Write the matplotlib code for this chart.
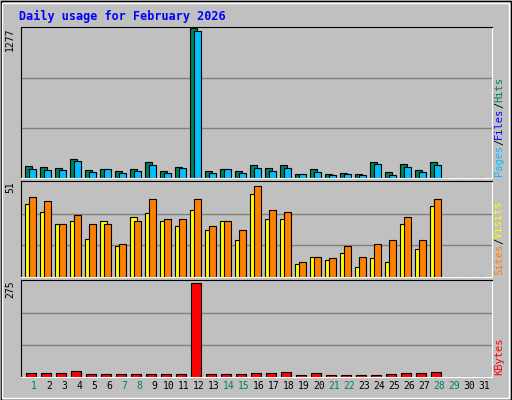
import matplotlib
matplotlib.use("Agg")
import matplotlib.pyplot as plt
from matplotlib.patches import Rectangle

days = list(range(1, 32))
hits = [100, 92, 83, 160, 66, 74, 57, 74, 134, 57, 92, 1277, 57, 74, 57, 109,
        83, 109, 31, 74, 31, 40, 31, 134, 49, 117, 66, 134, 0, 0, 0]
files = [80, 72, 72, 149, 54, 74, 46, 63, 109, 46, 83, 1255, 46, 74, 46, 89,
         63, 83, 31, 54, 23, 31, 23, 123, 23, 92, 54, 109, 0, 0, 0]
visits = [39, 34.7, 28.3, 29.9, 20.4, 29.9, 16.6, 32, 34.2, 29.9, 27.3, 35.8,
          25.1, 29.9, 19.8, 44.3, 31, 31, 7.1, 10.8, 9.2, 12.9, 5.5, 10.3,
          8.1, 28.3, 15, 37.9, 0, 0, 0]
sites = [42.7, 40.6, 28.3, 33.1, 28.3, 28.3, 17.7, 29.9, 41.6, 31, 31, 41.6,
         27.3, 29.9, 25.1, 49, 35.8, 34.7, 8.1, 10.8, 10.3, 16.6, 10.8, 17.7,
         19.8, 32, 19.8, 41.6, 0, 0, 0]
kbytes = [12, 12, 11, 18, 10, 10, 10, 10, 10, 10, 10, 270, 10, 10, 10, 11,
          11, 14, 5, 11, 5, 5, 5, 5, 10, 12, 11, 15, 0, 0, 0]
weekend = [1, 7, 8, 14, 15, 21, 22, 28, 29]
max_hits, max_visits, max_kb = 1277, 51, 275

W, H = 512, 400
fig = plt.figure(figsize=(W / 100, H / 100), dpi=100)
fig.patch.set_facecolor("#C0C0C0")
mono = "DejaVu Sans Mono"

# outer 3D border
fig.patches.append(Rectangle((0.5 / W, 0.5 / H), 1 - 1.5 / W, 1 - 1.5 / H,
                             transform=fig.transFigure, fill=False,
                             edgecolor="black", lw=1))
fig.patches.append(Rectangle((2 / W, 2 / H), 1 - 5 / W, 1 - 5 / H,
                             transform=fig.transFigure, fill=False,
                             edgecolor="white", lw=1))

fig.text(19 / W, 1 - 16 / H, "Daily usage for February 2026", color="#0000FF",
         fontsize=8.5, fontweight="bold", family=mono, va="center")

left, right = 21, 492
off_a, off_b, bw = -0.37, -0.08, 0.47


def panel(top, bottom, ymax):
    ax = fig.add_axes([left / W, 1 - bottom / H, (right - left) / W,
                       (bottom - top) / H])
    ax.set_facecolor("#C0C0C0")
    ax.set_xlim(0.13, 31.53)
    ax.set_ylim(0, ymax * 1.01)
    for s in ("left", "top"):
        ax.spines[s].set_color("black")
    for s in ("right", "bottom"):
        ax.spines[s].set_color("white")
    ax.set_yticks([])
    ax.set_xticks([])
    ax.text(-0.012, 1.0, str(ymax), transform=ax.transAxes, rotation=90,
            ha="right", va="top", fontsize=7, family=mono)
    for f in (1 / 3, 2 / 3):
        ax.axhline(ymax * f, color="#808080", lw=1, zorder=0)
    return ax


ax1 = panel(27, 178, max_hits)
ax1.bar([d + off_a for d in days], hits, width=bw, color="#00805C",
        edgecolor="black", lw=0.8)
ax1.bar([d + off_b for d in days], files, width=bw, color="#00C0FF",
        edgecolor="black", lw=0.8)

ax2 = panel(181, 277, max_visits)
ax2.bar([d + off_a for d in days], visits, width=bw, color="#FFFF00",
        edgecolor="black", lw=0.8)
ax2.bar([d + off_b for d in days], sites, width=bw, color="#FF8000",
        edgecolor="black", lw=0.8)

ax3 = panel(280, 377, max_kb)
ax3.bar([d - 0.2 for d in days], kbytes, width=0.72, color="#FF0000",
        edgecolor="black", lw=0.8)
ax3.set_xticks(days)
ax3.set_xticklabels([str(d) for d in days], fontsize=7, family=mono)
ax3.tick_params(axis="x", length=0, pad=3)
for lbl, d in zip(ax3.get_xticklabels(), days):
    lbl.set_color("#00805C" if d in weekend else "black")


def side_label(ybot, parts):
    y = ybot
    for txt, col in parts:
        fig.text(499 / W, 1 - y / H, txt, color=col, rotation=90,
                 fontsize=7.5, family=mono, ha="center", va="bottom")
        y -= len(txt) * 6.2


side_label(176, [("Pages", "#00C0FF"), ("/", "black"), ("Files", "#0000FF"),
                 ("/", "black"), ("Hits", "#00805C")])
side_label(275, [("Sites", "#FF8000"), ("/", "black"), ("Visits", "#FFFF00")])
side_label(375, [("KBytes", "#FF0000")])

fig.savefig("out.png", dpi=100, facecolor=fig.get_facecolor())
